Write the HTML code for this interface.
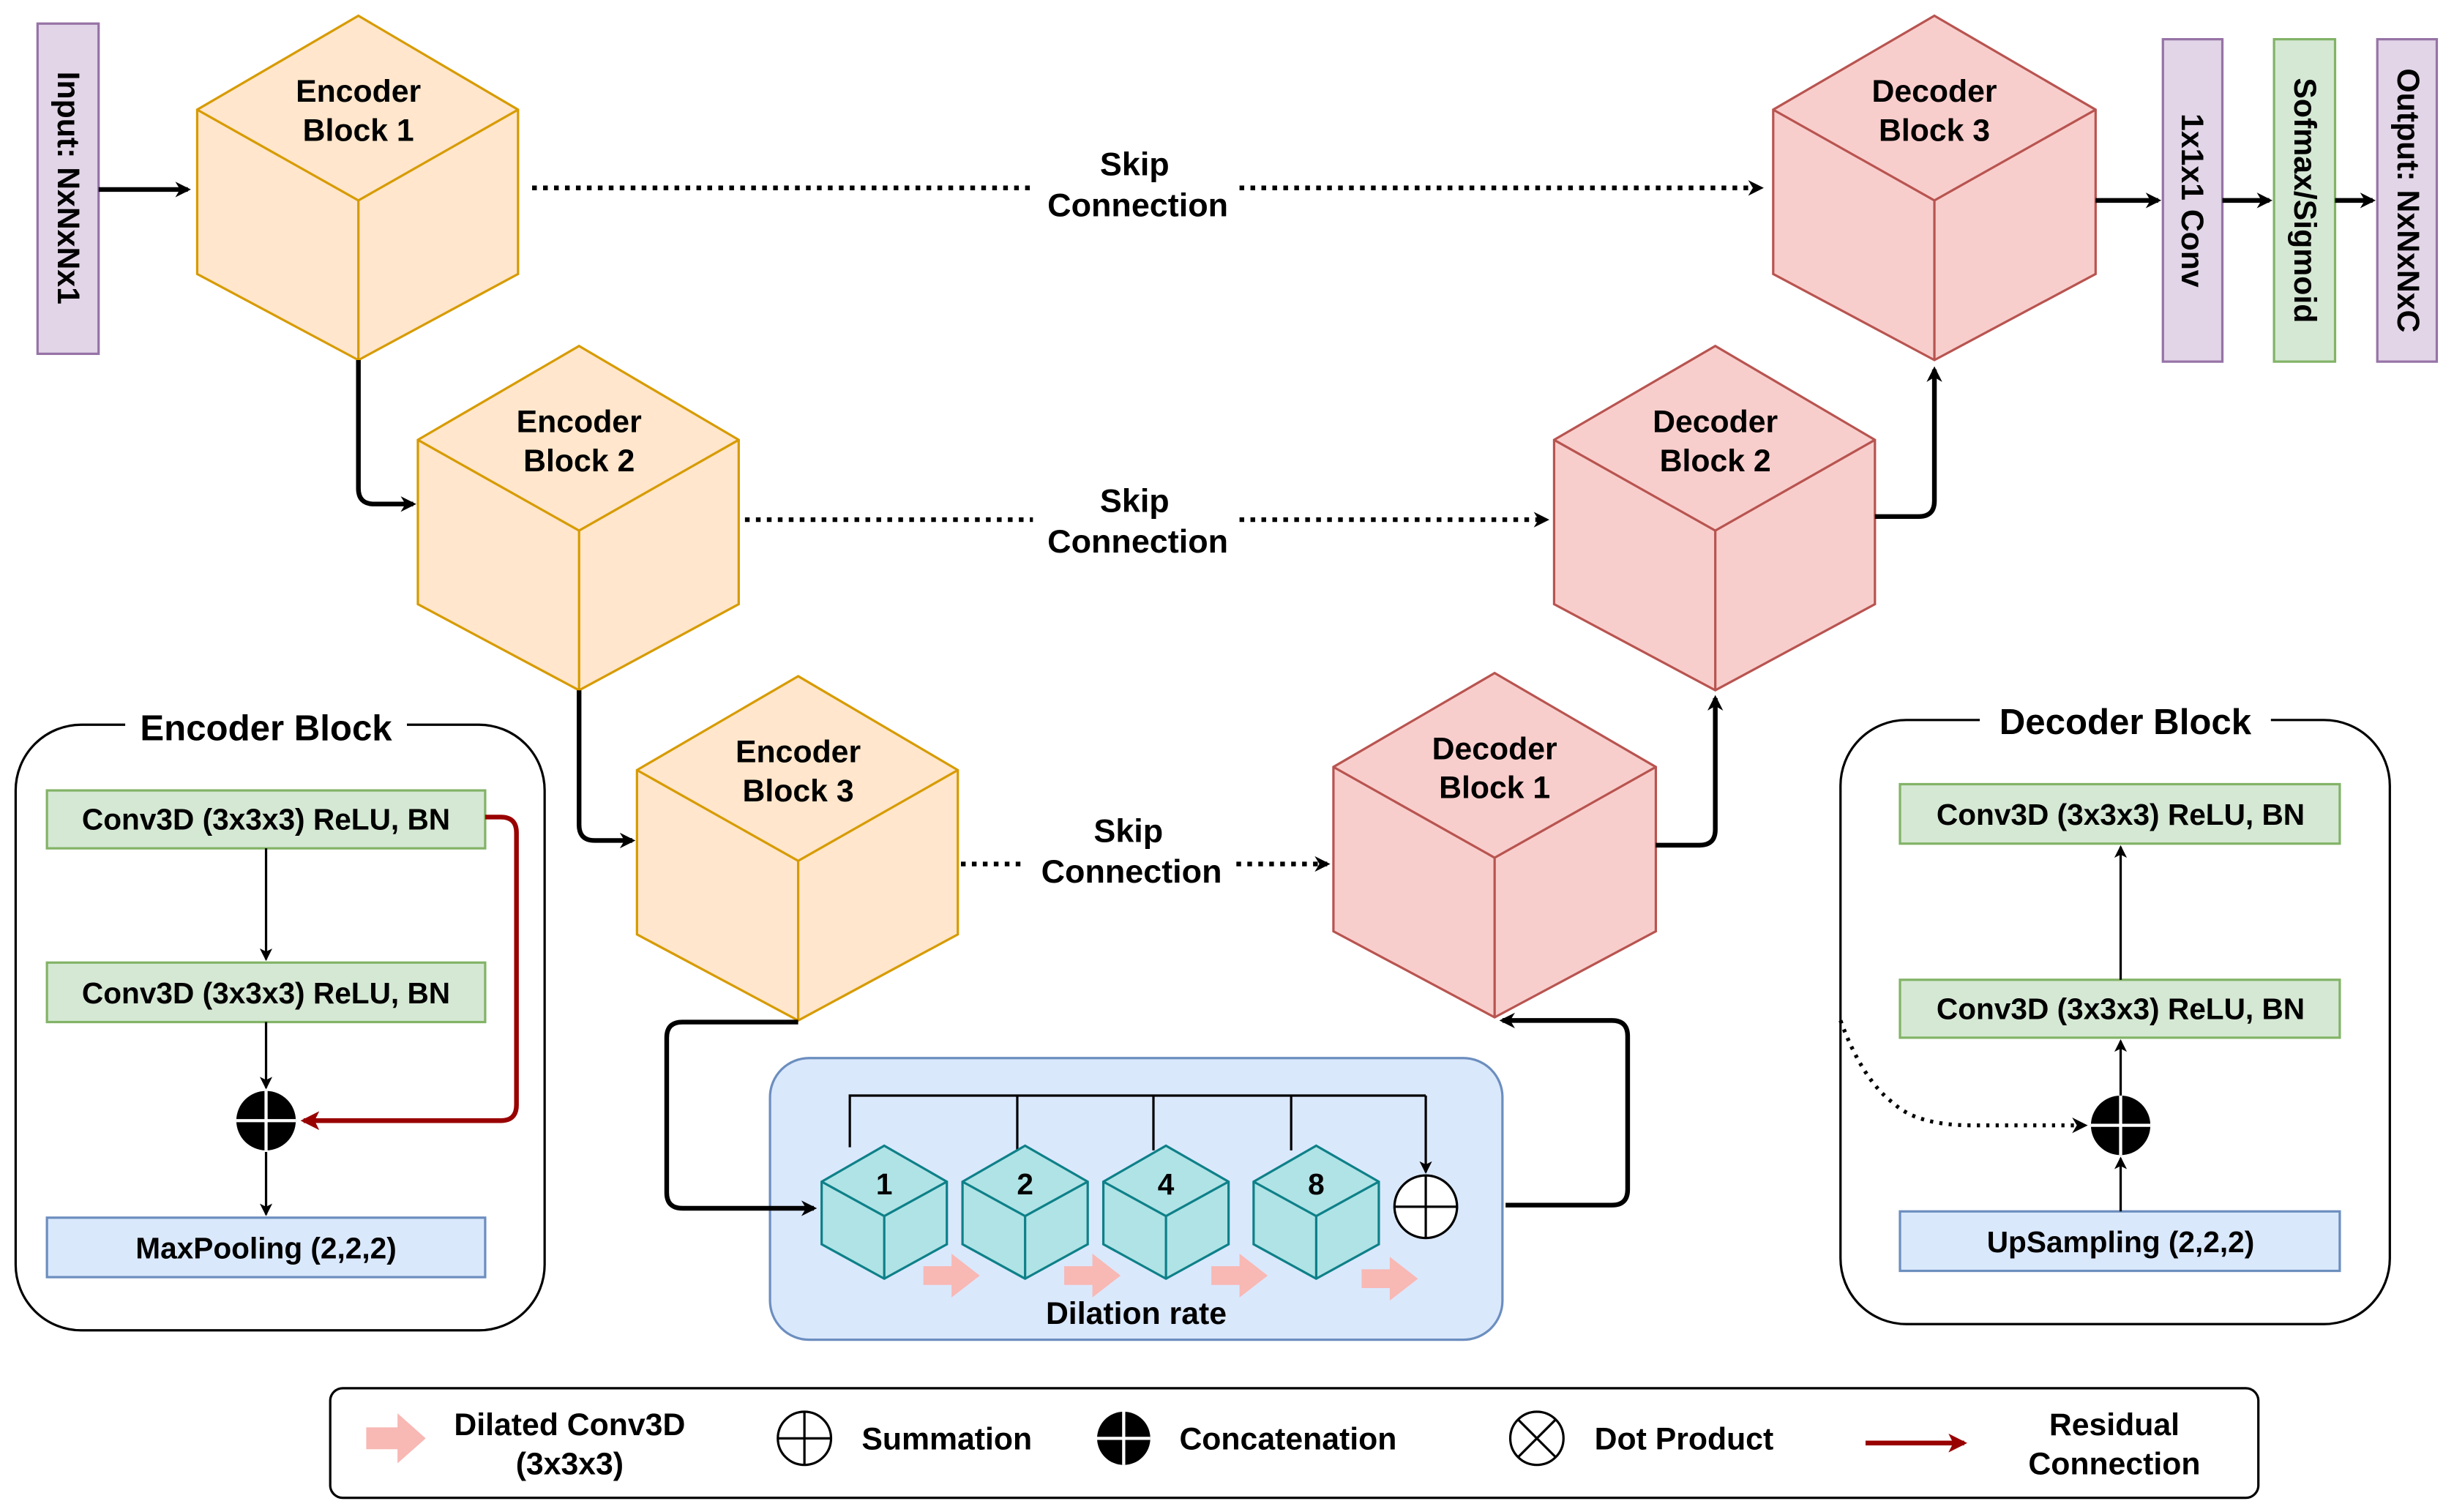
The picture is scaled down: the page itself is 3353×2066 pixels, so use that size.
<!DOCTYPE html>
<html><head><meta charset="utf-8"><style>
html,body{margin:0;padding:0;background:#fff}
svg{display:block}
text{font-family:"Liberation Sans",Arial,sans-serif;font-weight:bold;fill:#000}
</style></head><body>
<svg width="3353" height="2066" viewBox="0 0 1568 966" xmlns="http://www.w3.org/2000/svg">
<defs>
<marker id="ah" markerWidth="10" markerHeight="10" refX="8" refY="5" orient="auto" markerUnits="userSpaceOnUse"><path d="M0,0 L10,5 L0,10 L3,5 z" fill="#000"/></marker>
<marker id="ahs" markerWidth="8" markerHeight="8" refX="7" refY="4" orient="auto" markerUnits="userSpaceOnUse"><path d="M0,0 L8,4 L0,8 L2,4 z" fill="#000"/></marker>
<marker id="ahr" markerWidth="12" markerHeight="12" refX="10" refY="6" orient="auto" markerUnits="userSpaceOnUse"><path d="M0,0 L12,6 L0,12 L3,6 z" fill="#990000"/></marker>
</defs>

<!-- big cubes -->
<g stroke-width="1.5">
<g fill="#ffe6cc" stroke="#d79b00">
<path d="M229,10 L331,70 L331,175 L229,230 L126,175 L126,70 Z"/><path fill="none" d="M126,70 L229,128 L331,70 M229,128 L229,230"/>
<path d="M370,221 L472,281 L472,386 L370,441 L267,386 L267,281 Z"/><path fill="none" d="M267,281 L370,339 L472,281 M370,339 L370,441"/>
<path d="M510,432 L612,492 L612,597 L510,652 L407,597 L407,492 Z"/><path fill="none" d="M407,492 L510,550 L612,492 M510,550 L510,652"/>
</g>
<g fill="#f8cecc" stroke="#b85450">
<path d="M1236,10 L1339,70 L1339,175 L1236,230 L1133,175 L1133,70 Z"/><path fill="none" d="M1133,70 L1236,128 L1339,70 M1236,128 L1236,230"/>
<path d="M1096,221 L1198,281 L1198,386 L1096,441 L993,386 L993,281 Z"/><path fill="none" d="M993,281 L1096,339 L1198,281 M1096,339 L1096,441"/>
<path d="M955,430 L1058,490 L1058,595 L955,650 L852,595 L852,490 Z"/><path fill="none" d="M852,490 L955,548 L1058,490 M955,548 L955,650"/>
</g>
</g>
<g font-size="20" text-anchor="middle">
<text x="229" y="65">Encoder</text><text x="229" y="90">Block 1</text>
<text x="370" y="276">Encoder</text><text x="370" y="301">Block 2</text>
<text x="510" y="487">Encoder</text><text x="510" y="512">Block 3</text>
<text x="1236" y="65">Decoder</text><text x="1236" y="90">Block 3</text>
<text x="1096" y="276">Decoder</text><text x="1096" y="301">Block 2</text>
<text x="955" y="485">Decoder</text><text x="955" y="510">Block 1</text>
</g>

<!-- side bars -->
<rect x="24" y="15" width="39" height="211" fill="#e1d5e7" stroke="#9673a6" stroke-width="1.5"/>
<rect x="1382" y="25" width="38" height="206" fill="#e1d5e7" stroke="#9673a6" stroke-width="1.5"/>
<rect x="1453" y="25" width="39" height="206" fill="#d5e8d4" stroke="#82b366" stroke-width="1.5"/>
<rect x="1519" y="25" width="38" height="206" fill="#e1d5e7" stroke="#9673a6" stroke-width="1.5"/>
<g font-size="20" text-anchor="middle">
<text transform="translate(37,120) rotate(90)">Input: NxNxNx1</text>
<text transform="translate(1394,128) rotate(90)">1x1x1 Conv</text>
<text transform="translate(1466,128) rotate(90)">Sofmax/Sigmoid</text>
<text transform="translate(1532,128) rotate(90)">Output: NxNxNxC</text>
</g>

<!-- Dilation panel -->
<rect x="492" y="676" width="468" height="180" rx="25" fill="#dae8fc" stroke="#6c8ebf" stroke-width="1.5"/>
<path d="M543,733 L543,700 L911,700 M650,700 L650,735 M737,700 L737,735 M825,700 L825,735" stroke="#000" stroke-width="1.5" fill="none"/>
<path d="M911,700 L911,749" stroke="#000" stroke-width="1.5" fill="none" marker-end="url(#ahs)"/>
<g fill="#b0e3e6" stroke="#0e8088" stroke-width="1.5">
<path d="M565,732 L605,755 L605,795 L565,817 L525,795 L525,755 Z"/><path fill="none" d="M525,755 L565,777 L605,755 M565,777 L565,817"/>
<path d="M655,732 L695,755 L695,795 L655,817 L615,795 L615,755 Z"/><path fill="none" d="M615,755 L655,777 L695,755 M655,777 L655,817"/>
<path d="M745,732 L785,755 L785,795 L745,817 L705,795 L705,755 Z"/><path fill="none" d="M705,755 L745,777 L785,755 M745,777 L745,817"/>
<path d="M841,732 L881,755 L881,795 L841,817 L801,795 L801,755 Z"/><path fill="none" d="M801,755 L841,777 L881,755 M841,777 L841,817"/>
</g>
<g font-size="19" text-anchor="middle">
<text x="565" y="763">1</text><text x="655" y="763">2</text><text x="745" y="763">4</text><text x="841" y="763">8</text>
</g>
<circle cx="911" cy="771" r="20" fill="#fff" stroke="#000" stroke-width="1.5"/>
<path d="M891,771 L931,771 M911,751 L911,791" stroke="#000" stroke-width="1.5"/>
<g fill="#f8b8b4">
<path d="M590,809 L608,809 L608,801 L626,815 L608,829 L608,821 L590,821 Z"/>
<path d="M680,809 L698,809 L698,801 L716,815 L698,829 L698,821 L680,821 Z"/>
<path d="M774,809 L792,809 L792,801 L810,815 L792,829 L792,821 L774,821 Z"/>
<path d="M870,811 L888,811 L888,803 L906,817 L888,831 L888,823 L870,823 Z"/>
</g>
<text x="726" y="846" font-size="20" text-anchor="middle">Dilation rate</text>

<!-- solid arrows -->
<g stroke="#000" stroke-width="3" fill="none" marker-end="url(#ah)">
<path d="M63,121 L120,121"/>
<path d="M1339,128 L1379,128"/>
<path d="M1420,128 L1450,128"/>
<path d="M1492,128 L1516,128"/>
<path d="M229,230 L229,312 Q229,322 239,322 L264,322"/>
<path d="M370,441 L370,527 Q370,537 380,537 L404,537"/>
<path d="M510,653 L436,653 Q426,653 426,663 L426,762 Q426,772 436,772 L520,772"/>
<path d="M962,770 L1030,770 Q1040,770 1040,760 L1040,662 Q1040,652 1030,652 L960,652"/>
<path d="M1058,540 L1086,540 Q1096,540 1096,530 L1096,446"/>
<path d="M1198,330 L1226,330 Q1236,330 1236,320 L1236,236"/>
</g>

<!-- skip connections -->
<g stroke="#000" stroke-width="3" fill="none" stroke-dasharray="3,4" marker-end="url(#ah)">
<path d="M340,120 L660,120 M792,120 L1125,120"/>
<path d="M476,332 L660,332 M792,332 L988,332"/>
<path d="M614,552 L655,552 M790,552 L848,552"/>
</g>
<g font-size="21" text-anchor="middle">
<text x="725" y="112">Skip</text><text x="727" y="138">Connection</text>
<text x="725" y="327">Skip</text><text x="727" y="353">Connection</text>
<text x="721" y="538">Skip</text><text x="723" y="564">Connection</text>
</g>

<!-- Encoder Block panel -->
<rect x="10" y="463" width="338" height="387" rx="42" fill="#fff" stroke="#000" stroke-width="1.5"/>
<rect x="80" y="452" width="180" height="24" fill="#fff"/>
<text x="170" y="473" font-size="23" text-anchor="middle">Encoder Block</text>
<rect x="30" y="505" width="280" height="37" fill="#d5e8d4" stroke="#82b366" stroke-width="1.5"/>
<rect x="30" y="615" width="280" height="38" fill="#d5e8d4" stroke="#82b366" stroke-width="1.5"/>
<rect x="30" y="778" width="280" height="38" fill="#dae8fc" stroke="#6c8ebf" stroke-width="1.5"/>
<g font-size="19" text-anchor="middle">
<text x="170" y="530">Conv3D (3x3x3) ReLU, BN</text>
<text x="170" y="641">Conv3D (3x3x3) ReLU, BN</text>
<text x="170" y="804">MaxPooling (2,2,2)</text>
</g>
<g stroke="#000" stroke-width="1.5" fill="none" marker-end="url(#ahs)">
<path d="M170,542 L170,613"/>
<path d="M170,653 L170,695"/>
<path d="M170,736 L170,776"/>
</g>
<path d="M310,522 L320,522 Q330,522 330,532 L330,706 Q330,716 320,716 L194,716" stroke="#990000" stroke-width="3" fill="none" marker-end="url(#ahr)"/>
<circle cx="170" cy="716" r="19" fill="#000"/>
<path d="M151,716 L189,716 M170,697 L170,735" stroke="#fff" stroke-width="2"/>

<!-- Decoder Block panel -->
<rect x="1176" y="460" width="351" height="386" rx="42" fill="#fff" stroke="#000" stroke-width="1.5"/>
<rect x="1265" y="448" width="186" height="24" fill="#fff"/>
<text x="1358" y="469" font-size="23" text-anchor="middle">Decoder Block</text>
<rect x="1214" y="501" width="281" height="38" fill="#d5e8d4" stroke="#82b366" stroke-width="1.5"/>
<rect x="1214" y="626" width="281" height="37" fill="#d5e8d4" stroke="#82b366" stroke-width="1.5"/>
<rect x="1214" y="774" width="281" height="38" fill="#dae8fc" stroke="#6c8ebf" stroke-width="1.5"/>
<g font-size="19" text-anchor="middle">
<text x="1355" y="527">Conv3D (3x3x3) ReLU, BN</text>
<text x="1355" y="651">Conv3D (3x3x3) ReLU, BN</text>
<text x="1355" y="800">UpSampling (2,2,2)</text>
</g>
<g stroke="#000" stroke-width="1.5" fill="none" marker-end="url(#ahs)">
<path d="M1355,774 L1355,740"/>
<path d="M1355,700 L1355,665"/>
<path d="M1355,626 L1355,541"/>
</g>
<path d="M1176,652 Q1190,690 1210,705 Q1225,719 1260,719 L1332,719" stroke="#000" stroke-width="2.5" fill="none" stroke-dasharray="2,4" marker-end="url(#ah)"/>
<circle cx="1355" cy="719" r="19" fill="#000"/>
<path d="M1336,719 L1374,719 M1355,700 L1355,738" stroke="#fff" stroke-width="2"/>

<!-- Legend -->
<rect x="211" y="887" width="1232" height="70" rx="8" fill="#fff" stroke="#000" stroke-width="1.5"/>
<path d="M234,912 L254,912 L254,903 L272,919 L254,935 L254,926 L234,926 Z" fill="#f8b8b4"/>
<g font-size="20" text-anchor="middle">
<text x="364" y="917">Dilated Conv3D</text><text x="364" y="942">(3x3x3)</text>
<text x="605" y="926">Summation</text>
<text x="823" y="926">Concatenation</text>
<text x="1076" y="926">Dot Product</text>
<text x="1351" y="917">Residual</text><text x="1351" y="942">Connection</text>
</g>
<circle cx="514" cy="919" r="17" fill="#fff" stroke="#000" stroke-width="1.5"/>
<path d="M497,919 L531,919 M514,902 L514,936" stroke="#000" stroke-width="1.5"/>
<circle cx="718" cy="919" r="17" fill="#000"/>
<path d="M701,919 L735,919 M718,902 L718,936" stroke="#fff" stroke-width="2"/>
<circle cx="982" cy="919" r="17" fill="#fff" stroke="#000" stroke-width="1.5"/>
<path d="M970,907 L994,931 M994,907 L970,931" stroke="#000" stroke-width="1.5"/>
<path d="M1192,922 L1255,922" stroke="#990000" stroke-width="3" marker-end="url(#ahr)"/>
</svg>
</body></html>
